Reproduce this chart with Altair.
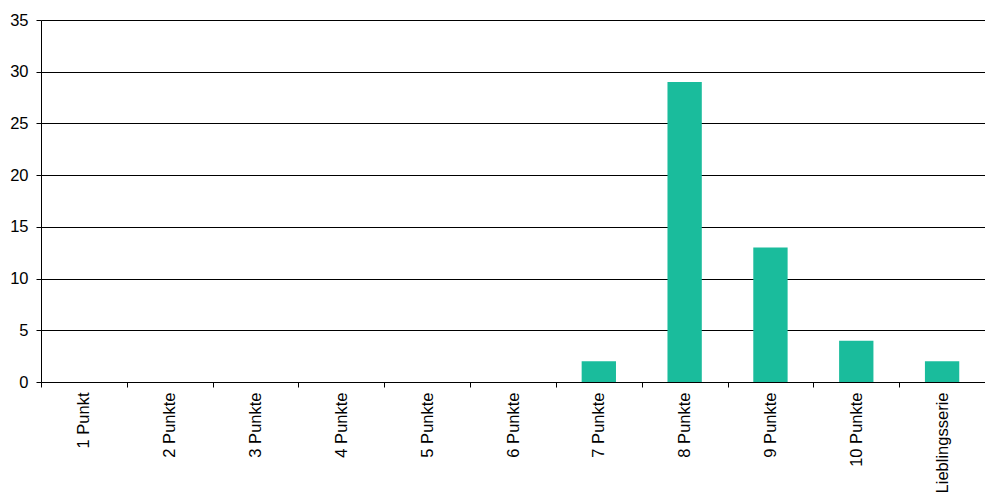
import altair as alt
import pandas as pd

categories = ["1 Punkt", "2 Punkte", "3 Punkte", "4 Punkte", "5 Punkte", "6 Punkte",
              "7 Punkte", "8 Punkte", "9 Punkte", "10 Punkte", "Lieblingsserie"]
values = [0, 0, 0, 0, 0, 0, 2, 29, 13, 4, 2]
y_ticks = [0, 5, 10, 15, 20, 25, 30, 35]

df = pd.DataFrame({"cat": categories, "val": values})

FONT = "Liberation Sans"

chart = alt.Chart(df).mark_bar(color="#1ABC9C", width=alt.RelativeBandSize(0.4)).encode(
    x=alt.X("cat:N", sort=categories, title=None,
            scale=alt.Scale(paddingInner=0, paddingOuter=0),
            axis=alt.Axis(labelAngle=-90, tickBand="extent", tickSize=5, tickColor="#000",
                          domainColor="#000", labelPadding=5, labelFontSize=16.5,
                          labelFont=FONT, labelColor="#000", grid=False)),
    y=alt.Y("val:Q", title=None,
            scale=alt.Scale(domain=[0, 35], nice=False),
            axis=alt.Axis(values=y_ticks, tickSize=5, tickColor="#000", domainColor="#000",
                          gridColor="#000", gridOpacity=1, labelPadding=8,
                          labelFontSize=16.5, labelFont=FONT, labelColor="#000")),
).properties(
    width=944, height=362,
    autosize=alt.AutoSizeParams(type="none"),
    padding={"left": 33, "top": 12, "right": 0, "bottom": 110},
).configure_view(stroke=None)

chart.save("out.html", embed_options={"renderer": "svg", "actions": False})
